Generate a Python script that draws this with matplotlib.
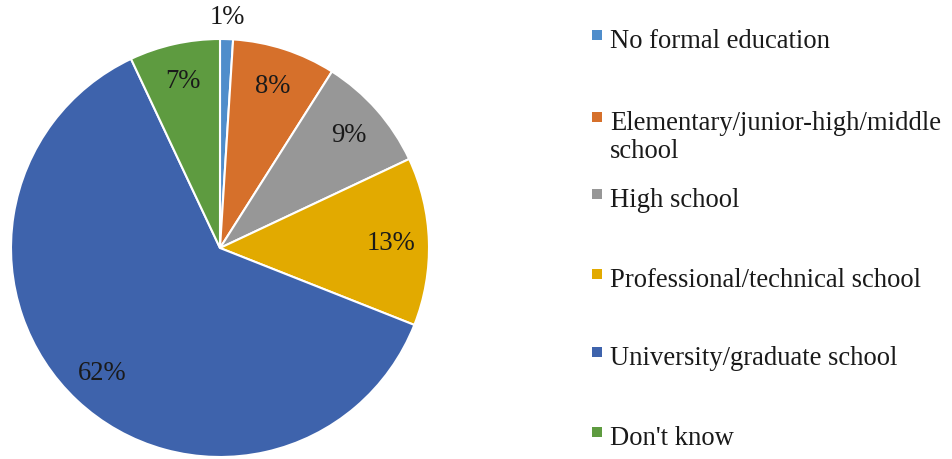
import numpy as np
import matplotlib.pyplot as plt
from matplotlib.patches import Rectangle

# education level shares (%)
categories = ["No formal education",
              "Elementary/junior-high/middle\nschool",
              "High school",
              "Professional/technical school",
              "University/graduate school",
              "Don't know"]
shares = [1, 8, 9, 13, 62, 7]
colors = ["#4F8DCB", "#D6702B", "#979797", "#E2AA00", "#3E63AC", "#5E9B40"]

plt.rcParams['font.family'] = ['Liberation Serif', 'DejaVu Serif']
FS = 19.2

W, H = 952, 460
fig = plt.figure(figsize=(W / 100, H / 100), dpi=100)

# pie centred at (220, 249) px with radius 209 px
cx, cy, r = 220, 249, 209
ax = fig.add_axes([(cx - r) / W, (H - cy - r) / H, 2 * r / W, 2 * r / H])
wedges, _, autotexts = ax.pie(
    shares, colors=colors, startangle=90, counterclock=False,
    autopct='%1.0f%%', pctdistance=0.82,
    wedgeprops=dict(edgecolor='white', linewidth=1.5),
    textprops=dict(fontsize=FS, color='#1a1a1a'))
ax.set_xlim(-1, 1)
ax.set_ylim(-1, 1)
ax.set_aspect('equal')

# tiny slice gets its label outside the pie
w0 = wedges[0]
mid = np.deg2rad((w0.theta1 + w0.theta2) / 2)
autotexts[0].set_position((1.11 * np.cos(mid), 1.11 * np.sin(mid)))

# legend on the right
baselines = [48, 130, 207, 287, 365, 445]
for lab, col, yb in zip(categories, colors, baselines):
    lines = lab.split("\n")
    for i, ln in enumerate(lines):
        fig.text(610 / W, 1 - (yb + 28 * i) / H, ln, fontsize=FS,
                 color='#1a1a1a', ha='left', va='baseline')
    fig.patches.append(Rectangle((592 / W, 1 - (yb - 7) / H), 10 / W, 10 / H,
                                 transform=fig.transFigure, facecolor=col,
                                 edgecolor='none'))

fig.savefig("out.png", dpi=100)
